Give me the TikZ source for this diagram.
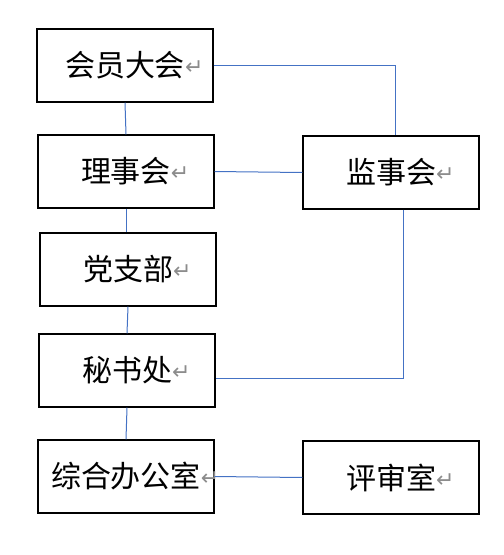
\documentclass[tikz,border=0pt]{standalone}
\usepackage{fontspec}
\usepackage{tikz}
\usetikzlibrary{positioning,calc}
\newfontfamily\cjk{Noto Sans CJK SC}
\newfontfamily\symfont{DejaVu Sans}
\definecolor{LinkBlue}{RGB}{68,114,196}
\definecolor{MarkGray}{RGB}{140,140,140}
\newcommand{\ret}{\rlap{\raisebox{2pt}{\symfont\fontsize{22}{22}\selectfont\textcolor{MarkGray}{↵}}}}
\tikzset{
  unit/.style={draw=black,line width=1.2pt,minimum width=176pt,minimum height=73pt,
    inner sep=0pt,font=\cjk\fontsize{30}{34}\selectfont},
  link/.style={draw=LinkBlue,line width=1pt},
}

\begin{document}
\begin{tikzpicture}[x=1pt,y=-1pt]
\useasboundingbox (0,0) rectangle (504,555);
\node[unit] (hy) at (125,65.5) {会员大会\ret};
\node[unit] (lsh) at (126,171.5) {理事会\ret};
\node[unit] (jsh) at (391,172.5) {监事会\ret};
\node[unit] (dzb) at (128,269.5) {党支部\ret};
\node[unit] (msc) at (127,370.5) {秘书处\ret};
\node[unit] (zhb) at (126,476.5) {综合办公室\ret};
\node[unit] (psh) at (391,477.5) {评审室\ret};
\draw[link] (hy.south)--(lsh.north);
\draw[link] (lsh.south)--(lsh.south |- dzb.north);
\draw[link] (dzb.south)--(msc.north);
\draw[link] (msc.south)--(zhb.north);
\draw[link] (hy.east) -| ([xshift=4pt]jsh.north);
\draw[link] (lsh.east)--(jsh.west);
\draw[link] ([xshift=12pt]jsh.south) |- ([yshift=-7.5pt]msc.east);
\draw[link] (psh.west)--(zhb.east);
\end{tikzpicture}
\end{document}
